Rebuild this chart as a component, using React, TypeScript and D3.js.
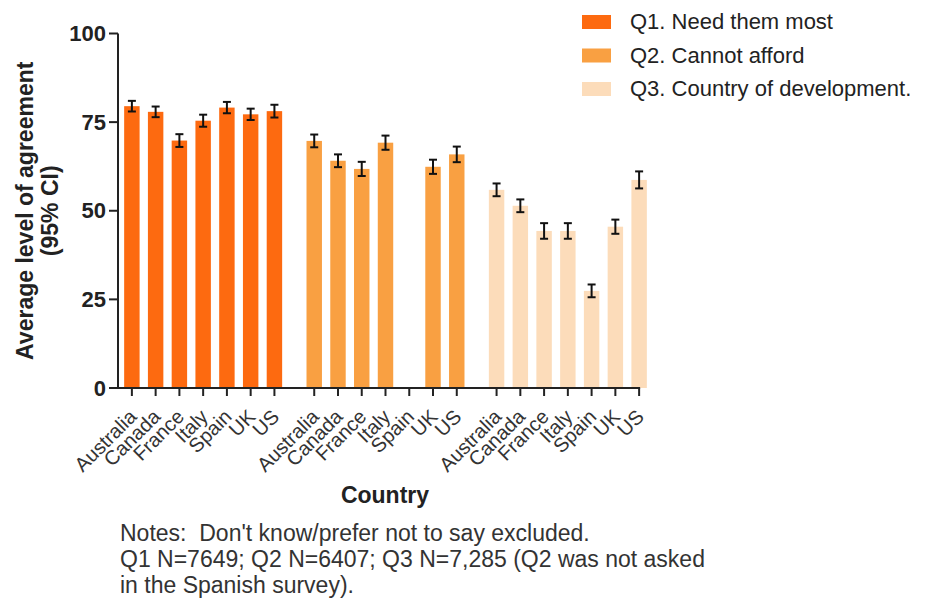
import React from 'react';
import * as d3 from 'd3';

const countries = ['Australia', 'Canada', 'France', 'Italy', 'Spain', 'UK', 'US'];
const questions = ['Q1. Need them most', 'Q2. Cannot afford', 'Q3. Country of development.'];
const colors = ['#fd6a10', '#f9a042', '#fcdcba'];

// mean agreement per country (null = not asked)
const q1Values = [79.5, 77.9, 69.8, 75.4, 79.1, 77.2, 78.1];
const q2Values = [69.7, 64.1, 61.8, 69.2, null, 62.4, 65.9];
const q3Values = [55.9, 51.4, 44.3, 44.3, 27.4, 45.5, 58.7];

// half width of the 95% CI
const q1Err = [1.5, 1.5, 1.8, 1.7, 1.6, 1.6, 1.8];
const q2Err = [1.8, 1.8, 2.0, 2.0, 0, 2.0, 2.2];
const q3Err = [1.8, 1.8, 2.2, 2.2, 1.8, 2.0, 2.4];

const yTicks = [0, 25, 50, 75, 100];

const notes = [
  "Notes:  Don't know/prefer not to say excluded.",
  'Q1 N=7649; Q2 N=6407; Q3 N=7,285 (Q2 was not asked',
  'in the Spanish survey).',
];

const font = 'Arial, "Liberation Sans", Helvetica, sans-serif';
const ink = '#222';

const App: React.FC = () => {
  const width = 925;
  const height = 601;
  const series = [q1Values, q2Values, q3Values];
  const errs = [q1Err, q2Err, q3Err];

  const y = d3.scaleLinear().domain([0, 100]).range([388, 33.5]);
  const outer = d3.scaleBand<string>().domain(questions).range([120, 651]).paddingInner(0.088).paddingOuter(0);
  const inner = d3.scaleBand<string>().domain(countries).range([0, outer.bandwidth()]).paddingInner(0.35).paddingOuter(0.175);
  const bw = inner.bandwidth();

  const ticksX: { x: number; label: string; key: string }[] = [];
  questions.forEach((q) => {
    countries.forEach((c) => {
      ticksX.push({ x: (outer(q) || 0) + (inner(c) || 0) + bw / 2, label: c, key: q + c });
    });
  });
  const lastX = ticksX[ticksX.length - 1].x;

  return (
    <svg width={width} height={height} style={{ position: 'absolute', left: 0, top: 0, background: '#fff' }} fontFamily={font}>
      {/* bars */}
      {questions.map((q, qi) =>
        countries.map((c, ci) => {
          const v = series[qi][ci];
          if (v == null) return null;
          const x = (outer(q) || 0) + (inner(c) || 0);
          const cx = x + bw / 2;
          const e = errs[qi][ci];
          return (
            <g key={q + c}>
              <rect x={x} y={y(v)} width={bw} height={y(0) - y(v)} fill={colors[qi]} />
              <line x1={cx} x2={cx} y1={y(v + e)} y2={y(v - e)} stroke="#111" strokeWidth={2} />
              <line x1={cx - 4} x2={cx + 4} y1={y(v + e)} y2={y(v + e)} stroke="#111" strokeWidth={2} />
              <line x1={cx - 4} x2={cx + 4} y1={y(v - e)} y2={y(v - e)} stroke="#111" strokeWidth={2} />
            </g>
          );
        })
      )}

      {/* y axis */}
      <line x1={118} x2={118} y1={y(0)} y2={y(100)} stroke={ink} strokeWidth={2} />
      {yTicks.map((t) => (
        <g key={t}>
          <line x1={109} x2={118} y1={y(t)} y2={y(t)} stroke={ink} strokeWidth={2} />
          <text x={106} y={y(t)} dy="0.35em" textAnchor="end" fontSize={22} fontWeight="bold" fill={ink}>
            {t}
          </text>
        </g>
      ))}
      <text transform={`translate(33,${y(50)}) rotate(-90)`} textAnchor="middle" fontSize={23} fontWeight="bold" fill={ink}>
        Average level of agreement
      </text>
      <text transform={`translate(58,${y(50)}) rotate(-90)`} textAnchor="middle" fontSize={23} fontWeight="bold" fill={ink}>
        (95% CI)
      </text>

      {/* x axis */}
      <line x1={117} x2={lastX + 1} y1={y(0)} y2={y(0)} stroke={ink} strokeWidth={2} />
      {ticksX.map((t) => (
        <g key={t.key}>
          <line x1={t.x} x2={t.x} y1={y(0)} y2={y(0) + 8} stroke={ink} strokeWidth={2} />
          <text transform={`translate(${t.x + 6},${y(0) + 30}) rotate(-45)`} textAnchor="end" fontSize={20} fill="#333">
            {t.label}
          </text>
        </g>
      ))}
      <text x={385} y={503} textAnchor="middle" fontSize={23} fontWeight="bold" fill={ink}>
        Country
      </text>

      {/* notes */}
      {notes.map((n, i) => (
        <text key={i} x={120} y={541 + i * 26} fontSize={23} fill="#333" style={{ whiteSpace: 'pre' }}>
          {n}
        </text>
      ))}

      {/* legend */}
      {questions.map((q, i) => (
        <g key={q} transform={`translate(582,${15 + i * 33.5})`}>
          <rect x={0} y={0} width={29} height={14} fill={colors[i]} />
          <text x={48} y={14} fontSize={22} fill={ink}>
            {q}
          </text>
        </g>
      ))}
    </svg>
  );
};

export default App;
